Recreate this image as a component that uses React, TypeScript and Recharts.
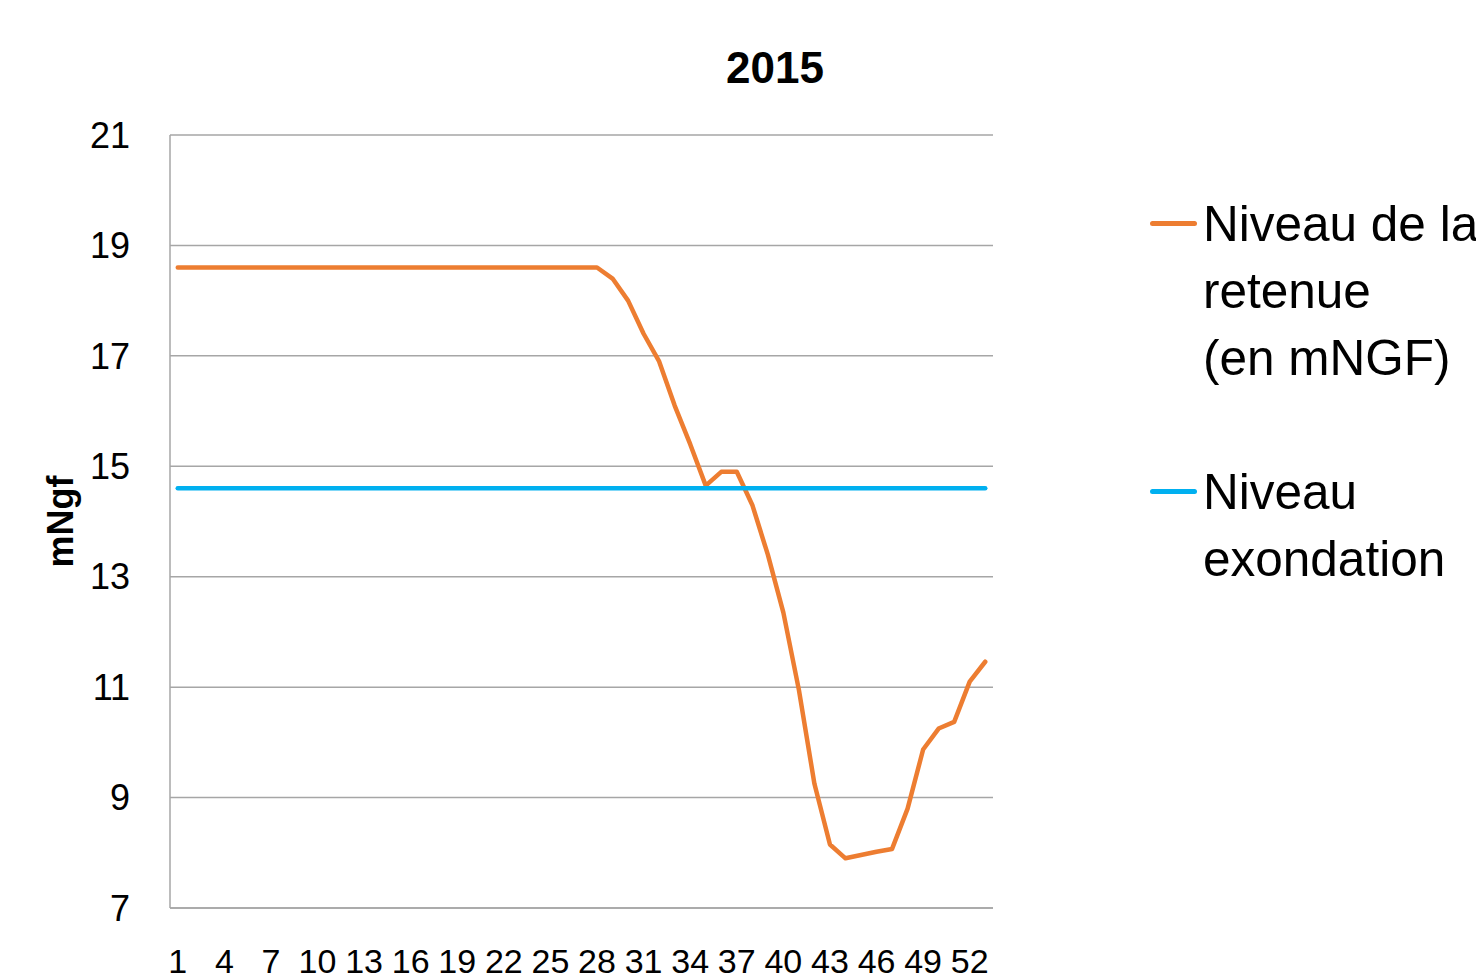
import { LineChart, Line, XAxis, YAxis, CartesianGrid, Legend } from 'recharts';

const weeks = [
  '1', '2', '3', '4', '5', '6', '7', '8', '9', '10', '11', '12', '13', '14', '15', '16', '17', '18',
  '19', '20', '21', '22', '23', '24', '25', '26', '27', '28', '29', '30', '31', '32', '33', '34', '35',
  '36', '37', '38', '39', '40', '41', '42', '43', '44', '45', '46', '47', '48', '49', '50', '51', '52', '53',
];

const niveauRetenue = [
  18.6, 18.6, 18.6, 18.6, 18.6, 18.6, 18.6, 18.6, 18.6, 18.6, 18.6, 18.6, 18.6, 18.6,
  18.6, 18.6, 18.6, 18.6, 18.6, 18.6, 18.6, 18.6, 18.6, 18.6, 18.6, 18.6, 18.6, 18.6,
  18.4, 18.0, 17.4, 16.9, 16.1, 15.4, 14.65, 14.9, 14.9, 14.3, 13.4, 12.35, 10.95, 9.25,
  8.15, 7.9, 7.96, 8.02, 8.07, 8.8, 9.87, 10.25, 10.37, 11.1, 11.46,
];

const niveauExondation = [
  14.6, 14.6, 14.6, 14.6, 14.6, 14.6, 14.6, 14.6, 14.6, 14.6, 14.6, 14.6, 14.6, 14.6,
  14.6, 14.6, 14.6, 14.6, 14.6, 14.6, 14.6, 14.6, 14.6, 14.6, 14.6, 14.6, 14.6, 14.6,
  14.6, 14.6, 14.6, 14.6, 14.6, 14.6, 14.6, 14.6, 14.6, 14.6, 14.6, 14.6, 14.6, 14.6,
  14.6, 14.6, 14.6, 14.6, 14.6, 14.6, 14.6, 14.6, 14.6, 14.6, 14.6,
];

const yTicks = [7, 9, 11, 13, 15, 17, 19, 21];

const legendLines: Record<string, string[]> = {
  retenue: ['Niveau de la', 'retenue', '(en mNGF)'],
  exondation: ['Niveau', 'exondation'],
};

const data = weeks.map((w, i) => ({
  week: w,
  retenue: niveauRetenue[i],
  exondation: niveauExondation[i],
}));

const FONT = "'Liberation Sans', Arial, sans-serif";

function YLabel(props: any) {
  const vb = props.viewBox || { y: 135, height: 773 };
  const cy = vb.y + vb.height / 2;
  return (
    <text
      x={60}
      y={cy}
      transform={`rotate(-90 60 ${cy})`}
      textAnchor="middle"
      dominantBaseline="central"
      fontFamily={FONT}
      fontWeight="bold"
      fontSize={36}
      fill="#000"
    >
      mNgf
    </text>
  );
}

function LegendContent(props: any) {
  const payload = props.payload || [];
  return (
    <div style={{ fontFamily: FONT, fontSize: 49.5, lineHeight: '67px', color: '#000' }}>
      {payload.map((entry: any, idx: number) => (
        <div key={entry.dataKey} style={{ display: 'flex', marginTop: idx === 0 ? 0 : 67 }}>
          <div
            style={{
              width: 47,
              height: 5,
              marginTop: 31,
              marginRight: 6,
              borderRadius: 3,
              background: entry.color,
              flexShrink: 0,
            }}
          />
          <div style={{ whiteSpace: 'nowrap' }}>
            {(legendLines[entry.dataKey] || [entry.value]).map((t) => (
              <div key={t}>{t}</div>
            ))}
          </div>
        </div>
      ))}
    </div>
  );
}

export default function App() {
  return (
    <div style={{ position: 'absolute', left: 0, top: 0, width: 1476, height: 979, overflow: 'hidden', background: '#fff' }}>
      <div
        style={{
          position: 'absolute',
          left: 575,
          top: 46,
          width: 400,
          textAlign: 'center',
          fontFamily: FONT,
          fontWeight: 'bold',
          fontSize: 44,
          lineHeight: '44px',
          zIndex: 2,
        }}
      >
        2015
      </div>
      <LineChart
        width={1476}
        height={979}
        data={data}
        margin={{ top: 135, right: 483, bottom: 0, left: 0 }}
      >
        <CartesianGrid vertical={false} stroke="#a6a6a6" strokeWidth={1.5} />
        <XAxis
          dataKey="week"
          height={71}
          interval={2}
          padding={{ left: 7.76, right: 7.76 }}
          tickLine={false}
          tickSize={0}
          tickMargin={41}
          axisLine={{ stroke: '#a6a6a6', strokeWidth: 1.5 }}
          tick={{ fill: '#000', fontSize: 34, fontFamily: FONT }}
        />
        <YAxis
          width={170}
          domain={[7, 21]}
          ticks={yTicks}
          interval={0}
          tickLine={false}
          tickSize={0}
          tickMargin={40}
          axisLine={{ stroke: '#a6a6a6', strokeWidth: 1.5 }}
          tick={{ fill: '#000', fontSize: 36, fontFamily: FONT }}
          label={<YLabel />}
        />
        <Legend
          layout="horizontal"
          align="center"
          verticalAlign="middle"
          content={<LegendContent />}
          wrapperStyle={{ position: 'absolute', left: 1150, top: 190, width: 326, height: 600, overflow: 'hidden' }}
        />
        <Line
          type="linear"
          dataKey="retenue"
          name="Niveau de la retenue (en mNGF)"
          stroke="#ED7D31"
          strokeWidth={4.5}
          strokeLinejoin="round"
          strokeLinecap="round"
          dot={false}
          activeDot={false}
          isAnimationActive={false}
        />
        <Line
          type="linear"
          dataKey="exondation"
          name="Niveau exondation"
          stroke="#00B0F0"
          strokeWidth={4.5}
          strokeLinejoin="round"
          strokeLinecap="round"
          dot={false}
          activeDot={false}
          isAnimationActive={false}
        />
      </LineChart>
    </div>
  );
}
